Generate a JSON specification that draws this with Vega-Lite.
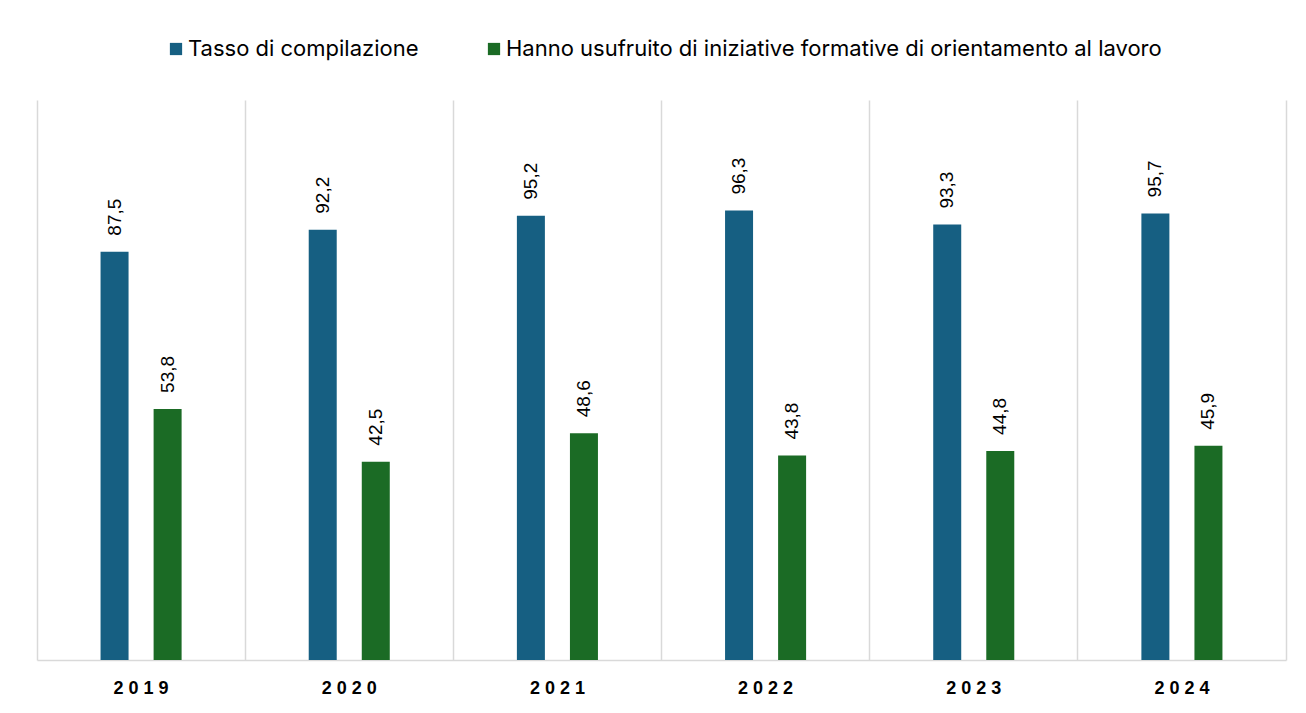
{
  "$schema": "https://vega.github.io/schema/vega-lite/v6.json",
  "autosize": "none",
  "width": 1249,
  "height": 560,
  "padding": {"left": 37, "top": 100, "right": 20, "bottom": 53},
  "background": "white",
  "config": {
    "view": {"stroke": null},
    "locale": {"number": {"decimal": ",", "thousands": ".", "grouping": [3], "currency": ["", " €"]}}
  },
  "data": {
    "values": [
      {"anno": "2019", "serie": "Tasso di compilazione", "valore": 87.5},
      {"anno": "2019", "serie": "Hanno usufruito di iniziative formative di orientamento al lavoro", "valore": 53.8},
      {"anno": "2020", "serie": "Tasso di compilazione", "valore": 92.2},
      {"anno": "2020", "serie": "Hanno usufruito di iniziative formative di orientamento al lavoro", "valore": 42.5},
      {"anno": "2021", "serie": "Tasso di compilazione", "valore": 95.2},
      {"anno": "2021", "serie": "Hanno usufruito di iniziative formative di orientamento al lavoro", "valore": 48.6},
      {"anno": "2022", "serie": "Tasso di compilazione", "valore": 96.3},
      {"anno": "2022", "serie": "Hanno usufruito di iniziative formative di orientamento al lavoro", "valore": 43.8},
      {"anno": "2023", "serie": "Tasso di compilazione", "valore": 93.3},
      {"anno": "2023", "serie": "Hanno usufruito di iniziative formative di orientamento al lavoro", "valore": 44.8},
      {"anno": "2024", "serie": "Tasso di compilazione", "valore": 95.7},
      {"anno": "2024", "serie": "Hanno usufruito di iniziative formative di orientamento al lavoro", "valore": 45.9}
    ]
  },
  "encoding": {
    "x": {
      "field": "anno", "type": "nominal",
      "scale": {"paddingInner": 0, "paddingOuter": 0},
      "axis": {
        "title": null, "labelAngle": 0, "bandPosition": 0,
        "grid": true, "gridColor": "#d9d9d9", "gridWidth": 1.5,
        "ticks": false, "domainColor": "#d9d9d9", "domainWidth": 1.5,
        "labelFont": "Liberation Sans", "labelFontSize": 18, "labelFontWeight": "bold",
        "labelColor": "#000000", "labelPadding": 19, "labelAlign": "center",
        "labelExpr": "join(split(datum.label, ''), ' ')"
      }
    },
    "xOffset": {
      "field": "serie", "type": "nominal",
      "sort": ["Tasso di compilazione", "Hanno usufruito di iniziative formative di orientamento al lavoro"],
      "scale": {"paddingInner": 0, "paddingOuter": 0.962}
    },
    "y": {
      "field": "valore", "type": "quantitative",
      "scale": {"domain": [0, 120], "nice": false},
      "axis": {
        "orient": "right", "title": null, "labels": false, "ticks": false,
        "grid": false, "domainColor": "#d9d9d9", "domainWidth": 1.5
      }
    }
  },
  "layer": [
    {
      "mark": {"type": "bar", "width": 28},
      "encoding": {
        "color": {
          "field": "serie", "type": "nominal",
          "sort": ["Tasso di compilazione", "Hanno usufruito di iniziative formative di orientamento al lavoro"],
          "scale": {"range": ["#165f82", "#1b6b25"]},
          "legend": {
            "title": null, "orient": "none", "direction": "horizontal",
            "legendX": 128, "legendY": -62,
            "symbolType": "square", "symbolSize": 150, "symbolStrokeWidth": 0,
            "labelFont": "Inter", "labelFontSize": 22, "labelColor": "#000000",
            "labelOffset": 1, "columnPadding": 64, "labelLimit": 800
          }
        }
      }
    },
    {
      "mark": {
        "type": "text", "angle": -90, "align": "left", "baseline": "middle",
        "dx": 16, "font": "Liberation Sans", "fontSize": 19, "color": "#000000"
      },
      "encoding": {
        "text": {"field": "valore", "type": "quantitative", "format": ".1f"}
      }
    }
  ]
}
